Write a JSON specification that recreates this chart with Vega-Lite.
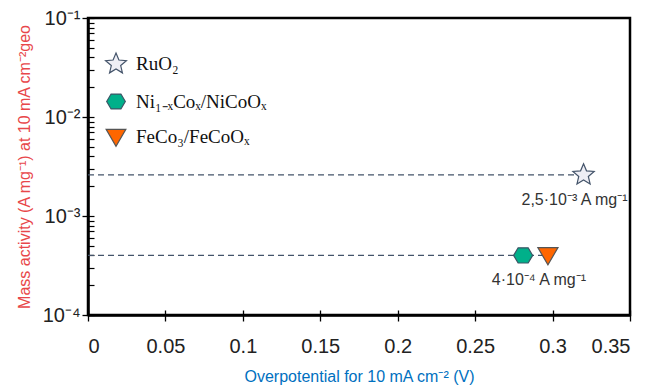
{
  "$schema": "https://vega.github.io/schema/vega-lite/v6.json",
  "width": 542,
  "height": 297,
  "autosize": {"type": "none"},
  "padding": {"left": 88, "top": 18, "right": 19, "bottom": 72},
  "config": {
    "view": {"stroke": "black", "strokeWidth": 2.5},
    "font": "Liberation Sans"
  },
  "datasets": {
    "points": [
      {"material": "RuO₂", "overpotential": 0.32, "activity": 0.0026, "label": "2,5·10⁻³ A mg⁻¹"},
      {"material": "Ni₁₋ₓCoₓ/NiCoOₓ", "overpotential": 0.281, "activity": 0.0004, "label": ""},
      {"material": "FeCo₃/FeCoOₓ", "overpotential": 0.297, "activity": 0.0004, "label": "4·10⁻⁴ A mg⁻¹"}
    ],
    "guides": [
      {"x0": 0, "x1": 0.32, "y": 0.0026},
      {"x0": 0, "x1": 0.297, "y": 0.0004}
    ]
  },
  "layer": [
    {
      "data": {"name": "guides"},
      "mark": {"type": "rule", "color": "#44546A", "strokeDash": [6, 4], "strokeWidth": 1.3},
      "encoding": {
        "x": {
          "field": "x0", "type": "quantitative",
          "scale": {"domain": [0, 0.35], "nice": false, "zero": false},
          "axis": {
            "values": [0, 0.05, 0.1, 0.15, 0.2, 0.25, 0.3, 0.35],
            "format": "~g",
            "grid": false,
            "orient": "bottom",
            "domainColor": "black", "domainWidth": 2.5,
            "tickColor": "black", "tickWidth": 1.3, "tickSize": 6,
            "labelFontSize": 20, "labelColor": "#222222", "labelPadding": 15,
            "title": "Overpotential for 10 mA cm⁻² (V)",
            "titleColor": "#0070C0", "titleFontSize": 16, "titleFontWeight": "normal",
            "titlePadding": 12
          }
        },
        "x2": {"field": "x1"},
        "y": {
          "field": "y", "type": "quantitative",
          "scale": {"type": "log", "domain": [0.0001, 0.1], "nice": false},
          "axis": {
            "values": [0.0001, 0.001, 0.01, 0.1],
            "labelExpr": "datum.value > 0.05 ? '10⁻¹' : datum.value > 0.005 ? '10⁻²' : datum.value > 0.0005 ? '10⁻³' : '10⁻⁴'",
            "grid": false,
            "orient": "left",
            "domainColor": "black", "domainWidth": 2.5,
            "tickColor": "black", "tickWidth": 1.3, "tickSize": 6,
            "labelFontSize": 20, "labelColor": "#222222", "labelPadding": 2,
            "title": "Mass activity (A mg⁻¹) at 10 mA cm⁻²geo",
            "titleColor": "#E8474A", "titleFontSize": 16, "titleFontWeight": "normal",
            "titlePadding": 10
          }
        }
      }
    },
    {
      "data": {"name": "points"},
      "mark": {"type": "point", "filled": true, "size": 500, "strokeWidth": 1.2, "opacity": 1},
      "encoding": {
        "x": {
          "field": "overpotential", "type": "quantitative",
          "axis": {
            "values": [0, 0.05, 0.1, 0.15, 0.2, 0.25, 0.3, 0.35],
            "orient": "bottom", "grid": false, "labels": false, "domain": false,
            "tickColor": "black", "tickWidth": 1.3, "tickSize": -5, "title": null
          }
        },
        "y": {
          "field": "activity", "type": "quantitative",
          "axis": {
            "values": [0.0001, 0.0002, 0.0003, 0.0004, 0.0005, 0.0006, 0.0007, 0.0008, 0.0009,
                       0.001, 0.002, 0.003, 0.004, 0.005, 0.006, 0.007, 0.008, 0.009,
                       0.01, 0.02, 0.03, 0.04, 0.05, 0.06, 0.07, 0.08, 0.09, 0.1],
            "orient": "left", "grid": false, "labels": false, "domain": false,
            "tickColor": "black", "tickWidth": 1.2, "tickSize": -6, "title": null
          }
        },
        "shape": {
          "field": "material", "type": "nominal",
          "scale": {
            "domain": ["RuO₂", "Ni₁₋ₓCoₓ/NiCoOₓ", "FeCo₃/FeCoOₓ"],
            "range": [
              "M0,-1L0.265,-0.364L0.951,-0.309L0.428,0.139L0.588,0.809L0,0.45L-0.588,0.809L-0.428,0.139L-0.951,-0.309L-0.265,-0.364Z",
              "M-0.85,0L-0.45,-0.68L0.45,-0.68L0.85,0L0.45,0.68L-0.45,0.68Z",
              "M-0.9,-0.7L0.9,-0.7L0,0.85Z"
            ]
          },
          "legend": {
            "orient": "none", "legendX": 16, "legendY": 34, "title": null,
            "labelFont": "Liberation Serif", "labelFontSize": 19, "labelColor": "#111111",
            "rowPadding": 13.5, "labelOffset": 8, "symbolStrokeWidth": 1.2, "padding": 0,
            "symbolSize": 480
          }
        },
        "color": {
          "field": "material", "type": "nominal",
          "scale": {
            "domain": ["RuO₂", "Ni₁₋ₓCoₓ/NiCoOₓ", "FeCo₃/FeCoOₓ"],
            "range": ["#EEEEF5", "#00B08A", "#FF6600"]
          },
          "legend": {
            "orient": "none", "legendX": 16, "legendY": 34, "title": null,
            "labelFont": "Liberation Serif", "labelFontSize": 19, "labelColor": "#111111",
            "rowPadding": 13.5, "labelOffset": 8, "symbolStrokeWidth": 1.2, "padding": 0,
            "symbolSize": 480
          }
        },
        "stroke": {
          "field": "material", "type": "nominal",
          "scale": {
            "domain": ["RuO₂", "Ni₁₋ₓCoₓ/NiCoOₓ", "FeCo₃/FeCoOₓ"],
            "range": ["#44546A", "#3C5566", "#555555"]
          },
          "legend": {
            "orient": "none", "legendX": 16, "legendY": 34, "title": null,
            "labelFont": "Liberation Serif", "labelFontSize": 19, "labelColor": "#111111",
            "rowPadding": 13.5, "labelOffset": 8, "symbolStrokeWidth": 1.2, "padding": 0,
            "symbolSize": 480
          }
        }
      }
    },
    {
      "data": {"name": "points"},
      "mark": {"type": "text", "dy": 25, "dx": -9, "fontSize": 16, "color": "#333333", "font": "Liberation Sans"},
      "encoding": {
        "x": {"field": "overpotential", "type": "quantitative", "axis": null},
        "y": {"field": "activity", "type": "quantitative", "axis": null},
        "text": {"field": "label"}
      }
    }
  ],
  "resolve": {"axis": {"x": "independent", "y": "independent"}}
}
